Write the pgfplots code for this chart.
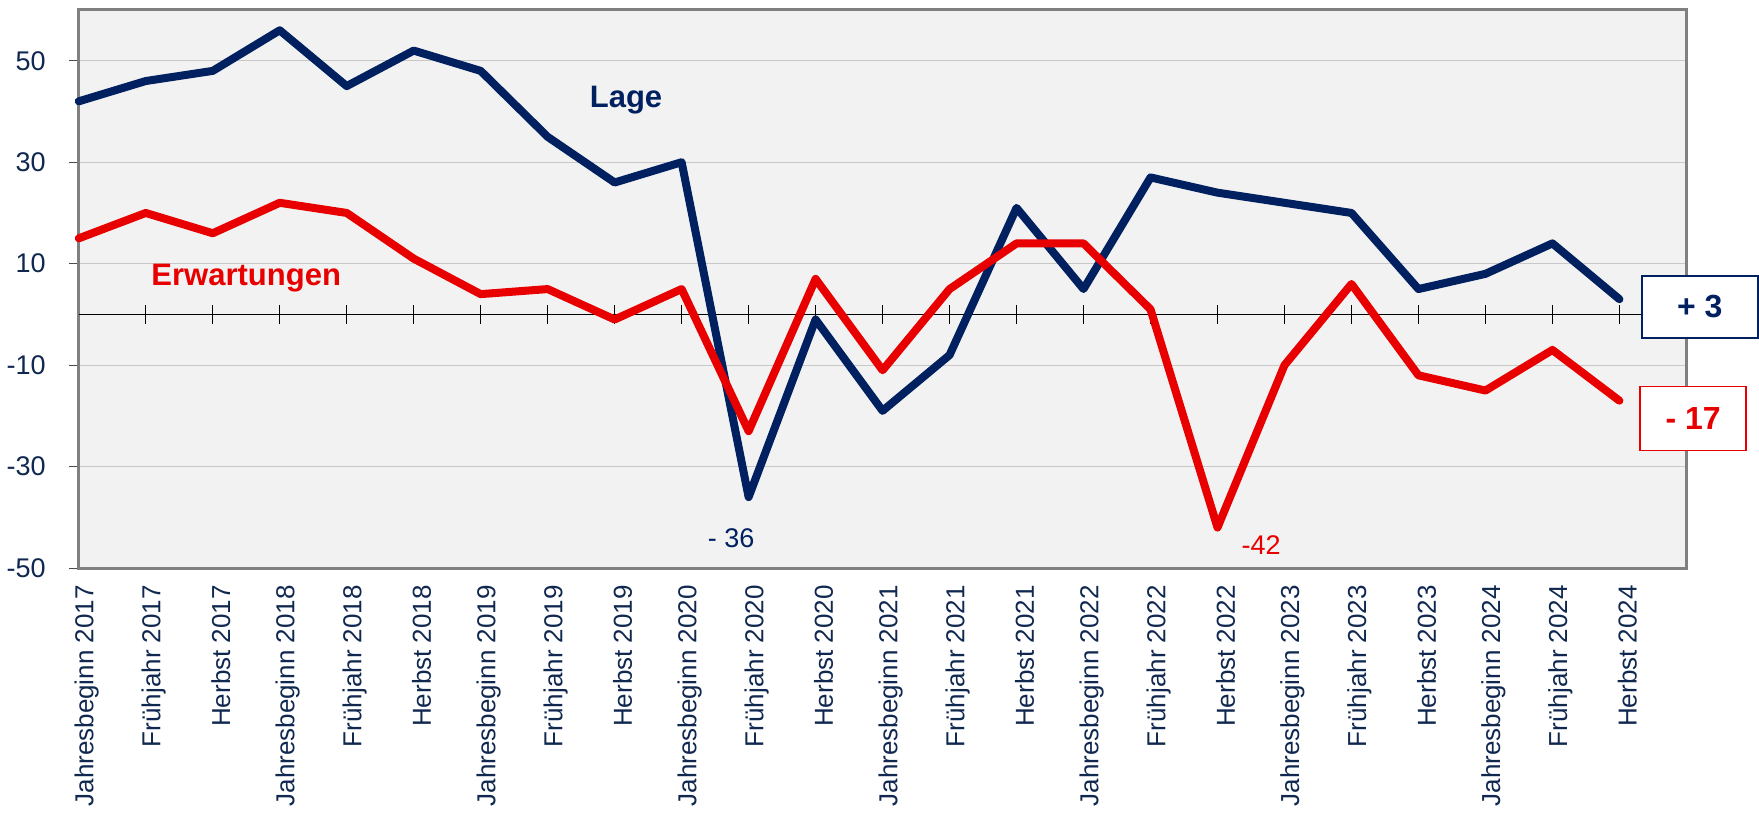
\documentclass[border=0pt]{standalone}
\usepackage{fontspec}
\setmainfont{Liberation Sans}
\usepackage{pgfplots}
\pgfplotsset{compat=1.18}

\definecolor{lagec}{RGB}{0,32,96}
\definecolor{erwc}{RGB}{232,0,0}
\definecolor{labtext}{RGB}{16,40,80}
\definecolor{plotbg}{RGB}{242,242,242}
\definecolor{gridc}{RGB}{200,200,200}
\definecolor{framec}{RGB}{128,128,128}

\begin{document}
\begin{tikzpicture}
\begin{axis}[
    scale only axis,
    width=803.6pt, height=279pt,
    xmin=0, xmax=24,
    ymin=-50, ymax=60,
    clip=false,
    axis background/.style={fill=plotbg},
    axis line style={framec, line width=1.5pt},
    xtick={0,...,23},
    xticklabels={Jahresbeginn 2017, Frühjahr 2017, Herbst 2017,
        Jahresbeginn 2018, Frühjahr 2018, Herbst 2018,
        Jahresbeginn 2019, Frühjahr 2019, Herbst 2019,
        Jahresbeginn 2020, Frühjahr 2020, Herbst 2020,
        Jahresbeginn 2021, Frühjahr 2021, Herbst 2021,
        Jahresbeginn 2022, Frühjahr 2022, Herbst 2022,
        Jahresbeginn 2023, Frühjahr 2023, Herbst 2023,
        Jahresbeginn 2024, Frühjahr 2024, Herbst 2024},
    x tick label style={rotate=90, anchor=east, yshift=-4pt,
        font=\fontsize{13}{15}\selectfont, text=labtext},
    major x tick style={draw=none},
    ytick={-50,-30,-10,10,30,50},
    yticklabels={-50,-30,-10,10,30,50},
    ytick pos=left,
    tick align=outside,
    major tick length=5pt,
    y tick style={black!70, line width=0.6pt},
    y tick label style={xshift=-8pt, font=\fontsize{13.5}{15}\selectfont, text=labtext},
    ymajorgrids,
    grid style={gridc, line width=0.6pt},
]
% zero line with category ticks
\draw[black, line width=0.7pt] (axis cs:0,0) -- (axis cs:24,0);
\pgfplotsinvokeforeach{1,...,23}{
    \draw[black, line width=0.6pt] (axis cs:#1,-1.8) -- (axis cs:#1,1.8);
}

% Lage
\addplot[lagec, line width=4pt, line join=round, line cap=round] coordinates {
    (0,42) (1,46) (2,48) (3,56) (4,45) (5,52) (6,48) (7,35) (8,26) (9,30)
    (10,-36) (11,-1) (12,-19) (13,-8) (14,21) (15,5) (16,27) (17,24)
    (18,22) (19,20) (20,5) (21,8) (22,14) (23,3)
};
% Erwartungen
\addplot[erwc, line width=4pt, line join=round, line cap=round] coordinates {
    (0,15) (1,20) (2,16) (3,22) (4,20) (5,11) (6,4) (7,5) (8,-1) (9,5)
    (10,-23) (11,7) (12,-11) (13,5) (14,14) (15,14) (16,1) (17,-42)
    (18,-10) (19,6) (20,-12) (21,-15) (22,-7) (23,-17)
};

\node[text=lagec, font=\bfseries\fontsize{15.5}{17}\selectfont] at (axis cs:8.17,42.2) {Lage};
\node[text=erwc, font=\bfseries\fontsize{15.5}{17}\selectfont] at (axis cs:2.5,7.2) {Erwartungen};
\node[text=lagec, font=\fontsize{13.5}{15}\selectfont] at (axis cs:9.74,-44.1) {- 36};
\node[text=erwc, font=\fontsize{13.5}{15}\selectfont] at (axis cs:17.65,-45.4) {-42};

\node[draw=lagec, line width=1.2pt, fill=white, text=lagec,
      minimum width=58pt, minimum height=31pt, inner sep=0pt,
      font=\bfseries\fontsize{16}{18}\selectfont] at (axis cs:24.2,1.5) {+ 3};
\node[draw=erwc, line width=0.9pt, fill=white, text=erwc,
      minimum width=53pt, minimum height=32pt, inner sep=0pt,
      font=\bfseries\fontsize{16}{18}\selectfont] at (axis cs:24.1,-20.5) {- 17};
\end{axis}
\end{tikzpicture}
\end{document}
